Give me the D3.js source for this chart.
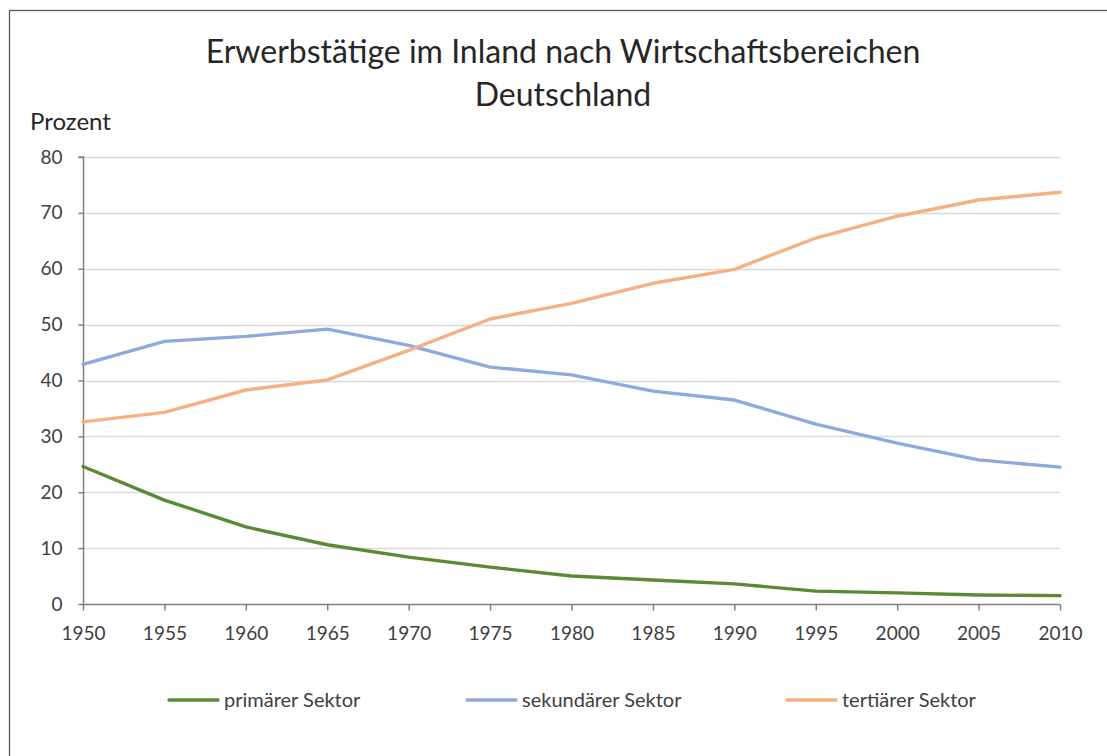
<!DOCTYPE html>
<html>
<head>
<meta charset="utf-8">
<script src="https://cdn.jsdelivr.net/npm/d3@7"></script>
<style>
  body { margin: 0; background: #fff; }
  text { font-family: Lato, "Open Sans", sans-serif; fill: #262626; }
</style>
</head>
<body>
<div id="chart"></div>
<script>
// data
var years = [1950, 1955, 1960, 1965, 1970, 1975, 1980, 1985, 1990, 1995, 2000, 2005, 2010];
var primaer   = [24.6, 18.6, 13.8, 10.6, 8.4, 6.6, 5.0, 4.3, 3.6, 2.3, 2.0, 1.6, 1.5];
var sekundaer = [42.9, 47.0, 47.9, 49.2, 46.3, 42.4, 41.0, 38.1, 36.5, 32.2, 28.8, 25.8, 24.5];
var tertiaer  = [32.6, 34.3, 38.3, 40.1, 45.4, 51.0, 53.8, 57.4, 59.9, 65.5, 69.4, 72.3, 73.7];
var seriesNames = ["primärer Sektor", "sekundärer Sektor", "tertiärer Sektor"];
var yTicks = [0, 10, 20, 30, 40, 50, 60, 70, 80];

var colors = ["#5b8a37", "#8eaadc", "#f5b083"];

var width = 1107,
    height = 756;

var svg = d3.select("#chart")
    .append("svg")
    .attr("width", width)
    .attr("height", height);

// chart border (only top and left visible in the crop)
svg.append("rect")
    .attr("x", 9.5)
    .attr("y", 10.5)
    .attr("width", width + 20)
    .attr("height", height + 20)
    .style("fill", "none")
    .style("stroke", "#595959")
    .style("stroke-width", 1.3);

// title
svg.append("text")
    .attr("x", 563)
    .attr("y", 63)
    .attr("text-anchor", "middle")
    .style("font-size", "32px")
    .text("Erwerbstätige im Inland nach Wirtschaftsbereichen");
svg.append("text")
    .attr("x", 563)
    .attr("y", 106)
    .attr("text-anchor", "middle")
    .style("font-size", "32px")
    .text("Deutschland");

svg.append("text")
    .attr("x", 30)
    .attr("y", 130)
    .style("font-size", "24px")
    .text("Prozent");

// scales
var x = d3.scaleLinear()
    .domain([1950, 2010])
    .range([83, 1060]);

var y = d3.scaleLinear()
    .domain([0, 80])
    .range([604, 157]);

// gridlines
svg.append("g")
    .selectAll("line")
    .data(yTicks.filter(function(d) { return d > 0; }))
    .enter()
    .append("line")
    .attr("x1", x(1950))
    .attr("x2", x(2010))
    .attr("y1", function(d) { return Math.round(y(d)) + 0.5; })
    .attr("y2", function(d) { return Math.round(y(d)) + 0.5; })
    .style("stroke", "#d9d9d9")
    .style("stroke-width", 1.3);

// axes
var yAxis = d3.axisLeft(y)
    .tickValues(yTicks)
    .tickSize(5)
    .tickPadding(16);
var gy = svg.append("g")
    .attr("transform", "translate(" + (x(1950) + 0.5) + ",0)")
    .call(yAxis);
gy.selectAll("text").style("font-size", "19px");

var xAxis = d3.axisBottom(x)
    .tickValues(years)
    .tickFormat(d3.format("d"))
    .tickSize(6)
    .tickPadding(16);
var gx = svg.append("g")
    .attr("transform", "translate(0," + (y(0) + 0.5) + ")")
    .call(xAxis);
gx.selectAll("text").style("font-size", "19px");

[gx, gy].forEach(function(g) {
    g.selectAll(".domain, .tick line")
        .style("stroke", "#7f7f7f")
        .style("stroke-width", 1.5);
    g.selectAll("text").style("fill", "#404040").style("font-family", "Lato, sans-serif");
});
gx.select(".domain").attr("d", "M" + x(1950) + ",0H" + x(2010));
gy.select(".domain").attr("d", "M-5," + y(80) + "H0V" + y(0));

// lines
var data = [primaer, sekundaer, tertiaer].map(function(vals, i) {
    return {
        name: seriesNames[i],
        color: colors[i],
        values: vals.map(function(v, j) { return { year: years[j], value: v }; })
    };
});

var line = d3.line()
    .x(function(d) { return x(d.year); })
    .y(function(d) { return y(d.value); });

svg.append("g")
    .selectAll("path")
    .data(data)
    .enter()
    .append("path")
    .attr("d", function(d) { return line(d.values); })
    .style("fill", "none")
    .style("stroke", function(d) { return d.color; })
    .style("stroke-width", 3.4)
    .style("stroke-linejoin", "round")
    .style("stroke-linecap", "round");

// legend
var legendX = [169, 467, 787];
var legend = svg.append("g")
    .selectAll("g")
    .data(data)
    .enter()
    .append("g")
    .attr("transform", function(d, i) { return "translate(" + legendX[i] + ",700)"; });

legend.append("line")
    .attr("x1", 0)
    .attr("x2", 49)
    .style("stroke", function(d) { return d.color; })
    .style("stroke-width", 3.4)
    .style("stroke-linecap", "round");

legend.append("text")
    .attr("x", 55)
    .attr("y", 7)
    .style("font-size", "20px")
    .style("fill", "#404040")
    .text(function(d) { return d.name; });
</script>
</body>
</html>
